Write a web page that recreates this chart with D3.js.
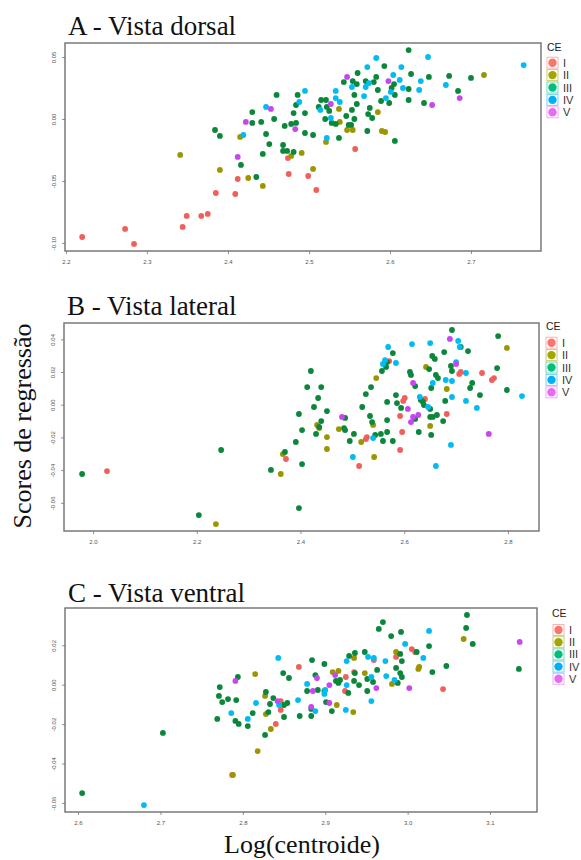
<!DOCTYPE html>
<html>
<head>
<meta charset="utf-8">
<script src="https://cdn.jsdelivr.net/npm/d3@7"></script>
<style>
  body { margin: 0; background: #fff; }
  svg { display: block; }
</style>
</head>
<body>
<svg id="chart" width="581" height="860"></svg>
<script>
// ---- Data: [log(centroid size), regression score] per CE class ----
const dorsalI = [[2.220,-0.0952],[2.273,-0.0887],[2.284,-0.1008],[2.344,-0.0871],[2.349,-0.0782],[2.367,-0.0782],[2.375,-0.0766],[2.385,-0.0597],[2.409,-0.0605],[2.412,-0.0484],[2.475,-0.0444],[2.474,-0.0315],[2.499,-0.0460],[2.509,-0.0573],[2.557,-0.0242]];
const dorsalII = [[2.341,-0.0290],[2.390,-0.0411],[2.425,-0.0476],[2.443,-0.0540],[2.415,-0.0145],[2.478,-0.0298],[2.491,-0.0274],[2.505,-0.0403],[2.521,-0.0185],[2.537,0.0081],[2.538,-0.0024],[2.547,-0.0089],[2.554,-0.0089],[2.585,0.0056],[2.590,-0.0097],[2.594,-0.0105],[2.716,0.0355]];
const dorsalIII = [[2.435,-0.0468],[2.416,-0.0371],[2.384,-0.0089],[2.390,-0.0137],[2.430,0.0056],[2.430,-0.0032],[2.460,0.0194],[2.441,-0.0024],[2.457,0.0000],[2.447,-0.0121],[2.451,-0.0202],[2.443,-0.0282],[2.470,-0.0056],[2.468,-0.0210],[2.468,-0.0258],[2.473,-0.0258],[2.481,-0.0266],[2.543,0.0298],[2.486,0.0194],[2.484,0.0113],[2.481,0.0048],[2.495,0.0048],[2.515,0.0153],[2.521,0.0153],[2.512,0.0097],[2.522,0.0097],[2.525,0.0065],[2.520,0.0000],[2.528,-0.0032],[2.533,-0.0040],[2.546,0.0024],[2.549,-0.0048],[2.478,-0.0040],[2.484,-0.0032],[2.495,-0.0113],[2.505,-0.0129],[2.537,-0.0153],[2.623,0.0556],[2.593,0.0427],[2.560,0.0371],[2.626,0.0363],[2.648,0.0339],[2.673,0.0347],[2.700,0.0331],[2.554,0.0306],[2.559,0.0282],[2.570,0.0306],[2.583,0.0339],[2.580,0.0298],[2.605,0.0282],[2.602,0.0250],[2.623,0.0242],[2.684,0.0226],[2.585,0.0234],[2.606,0.0194],[2.556,0.0194],[2.589,0.0145],[2.599,0.0129],[2.623,0.0153],[2.642,0.0129],[2.559,0.0121],[2.553,0.0073],[2.575,0.0089],[2.573,0.0040],[2.578,0.0008],[2.556,0.0000],[2.552,-0.0048],[2.572,-0.0097],[2.606,-0.0177]];
const dorsalIV = [[2.419,-0.0129],[2.447,0.0097],[2.495,0.0226],[2.488,0.0137],[2.514,0.0073],[2.533,0.0226],[2.533,0.0169],[2.538,0.0137],[2.527,0.0008],[2.522,-0.0153],[2.647,0.0500],[2.583,0.0492],[2.765,0.0435],[2.572,0.0419],[2.614,0.0419],[2.604,0.0355],[2.574,0.0290],[2.612,0.0315],[2.638,0.0306],[2.669,0.0274],[2.553,0.0258],[2.570,0.0258],[2.616,0.0250],[2.636,0.0234],[2.601,0.0218],[2.568,0.0185],[2.595,0.0169]];
const dorsalV = [[2.412,-0.0306],[2.422,-0.0024],[2.453,0.0081],[2.483,-0.0081],[2.527,0.0121],[2.547,0.0339],[2.598,0.0306],[2.652,0.0113],[2.686,0.0169]];

const lateralI = [[2.027,-0.0406],[2.372,-0.0332],[2.528,-0.0198],[2.526,-0.0210],[2.513,-0.0375],[2.571,0.0267],[2.706,0.0188],[2.709,0.0200],[2.750,0.0194],[2.769,0.0151],[2.773,0.0163],[2.601,0.0041],[2.598,0.0023],[2.640,0.0035],[2.682,-0.0057],[2.592,-0.0069],[2.596,-0.0167],[2.592,-0.0277]];
const lateralII = [[2.237,-0.0730],[2.362,-0.0424],[2.432,-0.0124],[2.436,-0.0143],[2.451,-0.0198],[2.451,-0.0271],[2.474,-0.0149],[2.517,-0.0228],[2.546,0.0163],[2.540,-0.0124],[2.542,-0.0320],[2.642,0.0231],[2.682,0.0096],[2.650,-0.0130],[2.798,0.0347],[2.366,-0.0302]];
const lateralIII = [[1.979,-0.0424],[2.204,-0.0675],[2.247,-0.0277],[2.343,-0.0399],[2.370,-0.0289],[2.397,-0.0632],[2.420,0.0206],[2.413,0.0108],[2.440,0.0108],[2.434,0.0041],[2.426,-0.0014],[2.451,-0.0039],[2.397,-0.0057],[2.440,-0.0100],[2.436,-0.0136],[2.403,-0.0155],[2.430,-0.0179],[2.391,-0.0228],[2.403,-0.0363],[2.486,-0.0081],[2.484,-0.0143],[2.486,-0.0155],[2.503,-0.0179],[2.495,-0.0222],[2.519,-0.0014],[2.526,0.0065],[2.536,0.0108],[2.534,-0.0069],[2.538,-0.0106],[2.544,-0.0185],[2.555,-0.0179],[2.559,-0.0222],[2.578,-0.0222],[2.567,-0.0167],[2.567,-0.0094],[2.692,0.0457],[2.781,0.0420],[2.578,0.0316],[2.567,0.0261],[2.565,0.0231],[2.557,0.0206],[2.654,0.0298],[2.659,0.0280],[2.677,0.0322],[2.723,0.0328],[2.709,0.0353],[2.690,0.0237],[2.692,0.0206],[2.779,0.0224],[2.648,0.0218],[2.661,0.0182],[2.665,0.0163],[2.611,0.0200],[2.613,0.0182],[2.621,0.0114],[2.652,0.0102],[2.731,0.0133],[2.727,0.0102],[2.746,0.0059],[2.798,0.0090],[2.679,0.0023],[2.584,0.0059],[2.567,0.0017],[2.586,0.0010],[2.594,-0.0020],[2.632,0.0029],[2.636,0.0017],[2.638,-0.0002],[2.650,-0.0026],[2.650,-0.0075],[2.655,-0.0075],[2.663,-0.0063],[2.675,-0.0100],[2.621,-0.0087],[2.628,-0.0167],[2.652,-0.0185]];
const lateralIV = [[2.501,-0.0320],[2.540,-0.0204],[2.615,0.0371],[2.650,0.0377],[2.569,0.0353],[2.563,0.0273],[2.559,0.0249],[2.584,0.0255],[2.704,0.0390],[2.707,0.0353],[2.700,0.0261],[2.719,0.0194],[2.655,0.0133],[2.680,0.0151],[2.692,0.0145],[2.827,0.0053],[2.692,0.0047],[2.719,0.0023],[2.740,-0.0020],[2.630,0.0047],[2.646,-0.0014],[2.690,-0.0246],[2.661,-0.0375]];
const lateralV = [[2.480,-0.0075],[2.688,0.0402],[2.700,0.0249],[2.617,0.0133],[2.607,-0.0026],[2.617,-0.0075],[2.613,-0.0106],[2.627,-0.0063],[2.763,-0.0179]];

const ventralI = [[2.868,0.0090],[2.925,0.0039],[2.935,0.0064],[2.924,-0.0032],[2.846,-0.0083],[2.846,-0.0128],[2.840,-0.0199],[3.005,0.0181],[3.009,0.0166],[2.986,0.0141],[2.959,0.0125],[3.043,-0.0022],[2.787,-0.0458]];
const ventralII = [[2.788,-0.0458],[2.818,-0.0337],[2.815,0.0054],[2.827,-0.0057],[2.828,-0.0149],[2.834,-0.0225],[2.909,0.0064],[2.916,0.0070],[2.914,-0.0103],[2.934,-0.0139],[3.068,0.0232],[2.986,0.0166],[3.013,0.0080],[3.014,0.0090],[2.935,0.0136],[2.948,0.0059],[2.981,0.0004]];
const ventralIII = [[2.605,-0.0550],[2.703,-0.0245],[2.769,-0.0174],[2.771,-0.0057],[2.772,-0.0012],[2.775,-0.0088],[2.782,-0.0073],[2.794,0.0039],[2.792,-0.0078],[2.791,-0.0184],[2.795,-0.0199],[2.806,-0.0210],[2.812,-0.0144],[2.849,0.0059],[2.856,0.0034],[2.828,-0.0037],[2.837,-0.0068],[2.833,-0.0098],[2.831,-0.0139],[2.850,-0.0103],[2.854,-0.0093],[2.850,-0.0164],[2.827,-0.0255],[2.884,0.0125],[2.899,0.0105],[2.888,0.0049],[2.913,0.0019],[2.916,0.0009],[2.918,0.0024],[2.878,-0.0032],[2.891,-0.0027],[2.899,-0.0032],[2.928,-0.0042],[2.883,-0.0123],[2.883,-0.0159],[2.869,-0.0159],[2.908,-0.0134],[2.901,-0.0088],[3.072,0.0354],[3.071,0.0288],[3.079,0.0207],[3.135,0.0080],[2.970,0.0318],[2.965,0.0283],[2.980,0.0247],[2.992,0.0268],[3.026,0.0196],[3.011,0.0166],[2.991,0.0156],[2.993,0.0120],[3.047,0.0095],[3.030,0.0064],[2.948,0.0166],[2.936,0.0161],[2.929,0.0146],[2.963,0.0075],[2.936,0.0059],[2.951,0.0029],[2.958,0.0014],[2.941,-0.0002],[2.935,0.0019],[2.951,-0.0032],[2.986,0.0085],[2.991,0.0059],[2.993,0.0039],[2.988,0.0009]];
const ventralIV = [[2.680,-0.0611],[2.786,-0.0144],[2.806,-0.0174],[2.816,-0.0093],[2.843,0.0136],[2.844,-0.0103],[2.867,-0.0078],[2.878,0.0004],[2.888,-0.0134],[2.900,-0.0027],[2.899,-0.0047],[2.926,-0.0002],[2.926,0.0120],[2.925,-0.0128],[3.026,0.0273],[2.997,0.0207],[3.019,0.0136],[2.973,0.0120],[2.952,0.0141],[2.959,0.0136],[2.956,0.0039],[2.974,0.0044],[2.984,0.0024],[2.956,-0.0083]];
const ventralV = [[2.791,0.0019],[2.842,-0.0083],[2.890,0.0034],[2.905,-0.0002],[2.885,-0.0032],[2.883,-0.0113],[2.905,-0.0093],[2.912,0.0049],[2.962,-0.0017],[3.002,-0.0017],[3.136,0.0217]];

// ---- Categories and tick labels ----
const classes = ["I", "II", "III", "IV", "V"];
const dorsalXTicks = [2.2, 2.3, 2.4, 2.5, 2.6, 2.7];
const dorsalYTicks = [-0.10, -0.05, 0.00, 0.05];
const lateralXTicks = [2.0, 2.2, 2.4, 2.6, 2.8];
const lateralYTicks = [-0.06, -0.04, -0.02, 0.00, 0.02, 0.04];
const ventralXTicks = [2.6, 2.7, 2.8, 2.9, 3.0, 3.1];
const ventralYTicks = [-0.06, -0.04, -0.02, 0.00, 0.02];

// ---- Styling ----
const pointColors = ["#ef605c", "#9b9600", "#0b873b", "#00bcf3", "#c646ef"];
const keyColors   = ["#F8766D", "#A3A500", "#00BF7D", "#00B0F6", "#E76BF3"];
const serif = "'Liberation Serif', 'Times New Roman', Times, serif";
const sans = "'Liberation Sans', Arial, Helvetica, sans-serif";

const panels = [
  {
    title: "A - Vista dorsal", titleY: 35,
    series: [dorsalI, dorsalII, dorsalIII, dorsalIV, dorsalV],
    xDomain: [2.1988, 2.7864], yDomain: [-0.1065, 0.0613],
    xTicks: dorsalXTicks, yTicks: dorsalYTicks,
    box: { left: 65, top: 43, right: 541, bottom: 251 },
    legend: { keyX: 552.5, labelX: 563, ceX: 547, ceY: 51, y0: 62.7, step: 12.4 }
  },
  {
    title: "B - Vista lateral", titleY: 315,
    series: [lateralI, lateralII, lateralIII, lateralIV, lateralV],
    xDomain: [1.9441, 2.8598], yDomain: [-0.07725, 0.04997],
    xTicks: lateralXTicks, yTicks: lateralYTicks,
    box: { left: 64, top: 323, right: 539, bottom: 531 },
    legend: { keyX: 551.5, labelX: 562, ceX: 546, ceY: 330, y0: 342.7, step: 12.4 }
  },
  {
    title: "C - Vista ventral", titleY: 602,
    series: [ventralI, ventralII, ventralIII, ventralIV, ventralV],
    xDomain: [2.5842, 3.1570], yDomain: [-0.06462, 0.03893],
    xTicks: ventralXTicks, yTicks: ventralYTicks,
    box: { left: 65, top: 608, right: 537, bottom: 812 },
    legend: { keyX: 558.5, labelX: 569, ceX: 552, ceY: 617, y0: 630, step: 12.2 }
  }
];

const svg = d3.select("#chart");

panels.forEach(p => {
  const b = p.box;
  const x = d3.scaleLinear().domain(p.xDomain).range([b.left, b.right]);
  const y = d3.scaleLinear().domain(p.yDomain).range([b.bottom, b.top]);
  const g = svg.append("g");

  // panel title
  g.append("text")
    .attr("x", b.left + 3).attr("y", p.titleY)
    .attr("font-family", serif).attr("font-size", 27).attr("fill", "#111")
    .text(p.title);

  // axes
  const xAxis = g.append("g")
    .attr("transform", `translate(0,${b.bottom})`)
    .call(d3.axisBottom(x).tickValues(p.xTicks).tickSize(3).tickPadding(6)
      .tickFormat(d => d.toFixed(1)));
  const yAxis = g.append("g")
    .attr("transform", `translate(${b.left},0)`)
    .call(d3.axisLeft(y).tickValues(p.yTicks).tickSize(3)
      .tickFormat(d => d.toFixed(2)));
  [xAxis, yAxis].forEach(a => {
    a.select(".domain").remove();
    a.selectAll(".tick line").attr("stroke", "#777").attr("stroke-width", 0.8);
    a.selectAll(".tick text").attr("fill", "#555").attr("font-family", sans).attr("font-size", 6);
  });
  yAxis.selectAll(".tick text")
    .attr("transform", "rotate(-90)")
    .attr("x", 0).attr("y", -9).attr("dy", 0)
    .attr("text-anchor", "middle");

  // points
  p.series.forEach((pts, i) => {
    g.append("g").selectAll("circle")
      .data(pts)
      .join("circle")
      .attr("cx", d => x(d[0]))
      .attr("cy", d => y(d[1]))
      .attr("r", 2.9)
      .attr("fill", pointColors[i]);
  });

  // frame
  g.append("rect")
    .attr("x", b.left).attr("y", b.top)
    .attr("width", b.right - b.left).attr("height", b.bottom - b.top)
    .attr("fill", "none").attr("stroke", "#707070").attr("stroke-width", 1.4);

  // legend
  const L = p.legend;
  g.append("text").attr("x", L.ceX).attr("y", L.ceY)
    .attr("font-family", sans).attr("font-size", 10.5).attr("fill", "#222").text("CE");
  const keys = g.append("g").selectAll("g").data(classes).join("g")
    .attr("transform", (d, i) => `translate(0,${L.y0 + i * L.step})`);
  keys.append("rect")
    .attr("x", L.keyX - 5.5).attr("y", -5.5).attr("width", 11).attr("height", 11)
    .attr("fill", "#fff").attr("stroke", (d, i) => keyColors[i])
    .attr("stroke-opacity", 0.55).attr("stroke-width", 1);
  keys.append("circle")
    .attr("cx", L.keyX).attr("cy", 0).attr("r", 4.2)
    .attr("fill", (d, i) => keyColors[i]);
  keys.append("text")
    .attr("x", L.labelX).attr("y", 4)
    .attr("font-family", sans).attr("font-size", 11).attr("fill", "#333")
    .text(d => d);
});

// shared axis titles
svg.append("text")
  .attr("transform", "translate(31,426) rotate(-90)")
  .attr("text-anchor", "middle")
  .attr("font-family", serif).attr("font-size", 26).attr("fill", "#111")
  .text("Scores de regressão");

svg.append("text")
  .attr("x", 302).attr("y", 853)
  .attr("text-anchor", "middle")
  .attr("font-family", serif).attr("font-size", 26).attr("fill", "#111")
  .text("Log(centroide)");
</script>
</body>
</html>
